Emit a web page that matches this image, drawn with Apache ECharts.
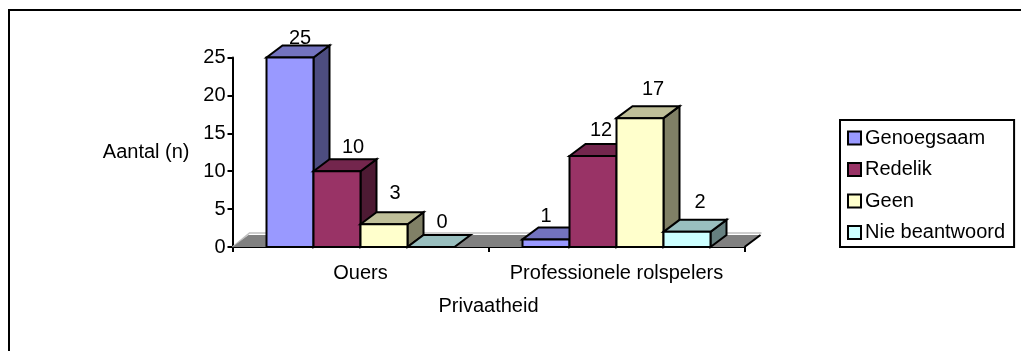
<!DOCTYPE html>
<html><head><meta charset="utf-8">
<style>html,body{margin:0;padding:0;background:#fff}#c{width:1021px;height:351px}</style>
<script src="https://cdn.jsdelivr.net/npm/echarts@6/dist/echarts.min.js"></script>
</head><body><div id="c"></div>
<script>
const categories = ['Ouers', 'Professionele rolspelers'];
const seriesNames = ['Genoegsaam', 'Redelik', 'Geen', 'Nie beantwoord'];
const genoegsaam = [25, 1];
const redelik = [10, 12];
const geen = [3, 17];
const nieBeantwoord = [0, 2];
const yTicks = [0, 5, 10, 15, 20, 25];

const seriesValues = [genoegsaam, redelik, geen, nieBeantwoord];
const faceColors = ['#9999FF', '#993366', '#FFFFCC', '#CCFFFF'];
const topColors = ['#7373BF', '#73264D', '#BFBF99', '#99BFBF'];
const sideColors = ['#4D4D80', '#4D1A33', '#808066', '#668080'];
const labelNudges = [
  [[10, -19], [0, -23]],
  [[16, -24], [8, -26]],
  [[11, -31], [13, -29]],
  [[11, -25], [13, -29]]
];
const FONT = '"Liberation Sans", Arial, sans-serif';
const FS = 20, DX = 16, DY = 12, BAR = 47;

function renderBar(seriesIdx) {
  return function (params, api) {
    const cat = api.value(0), val = api.value(1);
    const c = api.coord([cat, val]), base = api.coord([cat, 0]);
    const x0 = c[0] - 2 * BAR + seriesIdx * BAR, x1 = x0 + BAR;
    const yt = c[1], yb = base[1];
    const st = { stroke: '#000', lineWidth: 2, lineJoin: 'miter' };
    const nudge = labelNudges[seriesIdx][cat];
    const children = [];
    if (val > 0) {
      children.push({ type: 'polygon', shape: { points: [[x1, yt], [x1 + DX, yt - DY], [x1 + DX, yb - DY], [x1, yb]] },
        style: Object.assign({ fill: sideColors[seriesIdx] }, st) });
    }
    children.push({ type: 'polygon', shape: { points: [[x0, yt], [x0 + DX, yt - DY], [x1 + DX, yt - DY], [x1, yt]] },
      style: Object.assign({ fill: topColors[seriesIdx] }, st) });
    if (val > 0) {
      children.push({ type: 'rect', shape: { x: x0, y: yt, width: BAR, height: yb - yt },
        style: Object.assign({ fill: faceColors[seriesIdx] }, st) });
    }
    children.push({ type: 'text', z2: 10, style: { text: String(val), x: x0 + BAR / 2 + nudge[0], y: yt + nudge[1],
      align: 'center', verticalAlign: 'middle', fill: '#000', font: FS + 'px ' + FONT } });
    return { type: 'group', children };
  };
}

function renderFloor(params, api) {
  const cs = params.coordSys;
  const l = cs.x, r = cs.x + cs.width, b = cs.y + cs.height;
  return { type: 'group', children: [
    { type: 'polyline', shape: { points: [[l, b], [l + DX + 1, b - DY - 2], [r + DX + 1, b - DY - 2]] },
      style: { stroke: '#C0C0C0', lineWidth: 1.5, fill: null } },
    { type: 'polygon', shape: { points: [[l, b], [l + DX, b - DY], [r + DX, b - DY], [r, b]] },
      style: { fill: '#808080' } },
    { type: 'line', shape: { x1: r, y1: b, x2: r + DX, y2: b - DY }, style: { stroke: '#000', lineWidth: 2 } }
  ] };
}

const series = [{ type: 'custom', name: 'floor', silent: true, z: 1, clip: false, renderItem: renderFloor, data: [[0, 0]] }];
seriesNames.forEach((name, i) => {
  series.push({
    type: 'custom', name, z: 3 + i, clip: false, renderItem: renderBar(i),
    encode: { x: 0, y: 1 },
    itemStyle: { color: faceColors[i], borderColor: '#000', borderWidth: 2 },
    data: seriesValues[i].map((v, k) => [k, v])
  });
});

const chart = echarts.init(document.getElementById('c'), null, { renderer: 'canvas' });
chart.setOption({
  animation: false,
  backgroundColor: '#fff',
  textStyle: { fontFamily: FONT, color: '#000' },
  grid: { left: 232.5, top: 57.5, width: 512, height: 189.5 },
  xAxis: {
    type: 'category', data: categories, name: 'Privaatheid', nameLocation: 'middle', nameGap: 49,
    nameTextStyle: { fontSize: FS, color: '#000', fontFamily: FONT },
    axisLine: { lineStyle: { color: '#000', width: 2 } },
    axisTick: { show: true, length: 5, lineStyle: { color: '#000', width: 2 } },
    axisLabel: { fontSize: FS, color: '#000', fontFamily: FONT, margin: 16, interval: 0, hideOverlap: false },
    splitLine: { show: false }
  },
  yAxis: {
    type: 'value', min: yTicks[0], max: yTicks[yTicks.length - 1], interval: yTicks[1] - yTicks[0],
    name: 'Aantal (n)', nameLocation: 'middle', nameRotate: 0, nameGap: 43,
    nameTextStyle: { fontSize: FS, color: '#000', fontFamily: FONT },
    axisLine: { show: true, lineStyle: { color: '#000', width: 2 } },
    axisTick: { show: true, length: 5, lineStyle: { color: '#000', width: 2 } },
    axisLabel: { fontSize: FS, color: '#000', fontFamily: FONT, margin: 7 },
    splitLine: { show: false }
  },
  legend: {
    left: 840, top: 120, orient: 'vertical',
    data: seriesNames.map(n => ({ name: n, icon: 'rect' })),
    itemWidth: 13, itemHeight: 13, itemGap: 11.5,
    padding: [8, 9, 4.5, 7],
    borderColor: '#000', borderWidth: 2,
    textStyle: { fontSize: FS, color: '#000', fontFamily: FONT, padding: [0, 0, 0, -1] },
    selectedMode: false
  },
  graphic: [{ type: 'polyline', silent: true, shape: { points: [[9, 351], [9, 10], [1021, 10]] },
    style: { stroke: '#000', lineWidth: 2, fill: null } }],
  series
});
</script></body></html>
